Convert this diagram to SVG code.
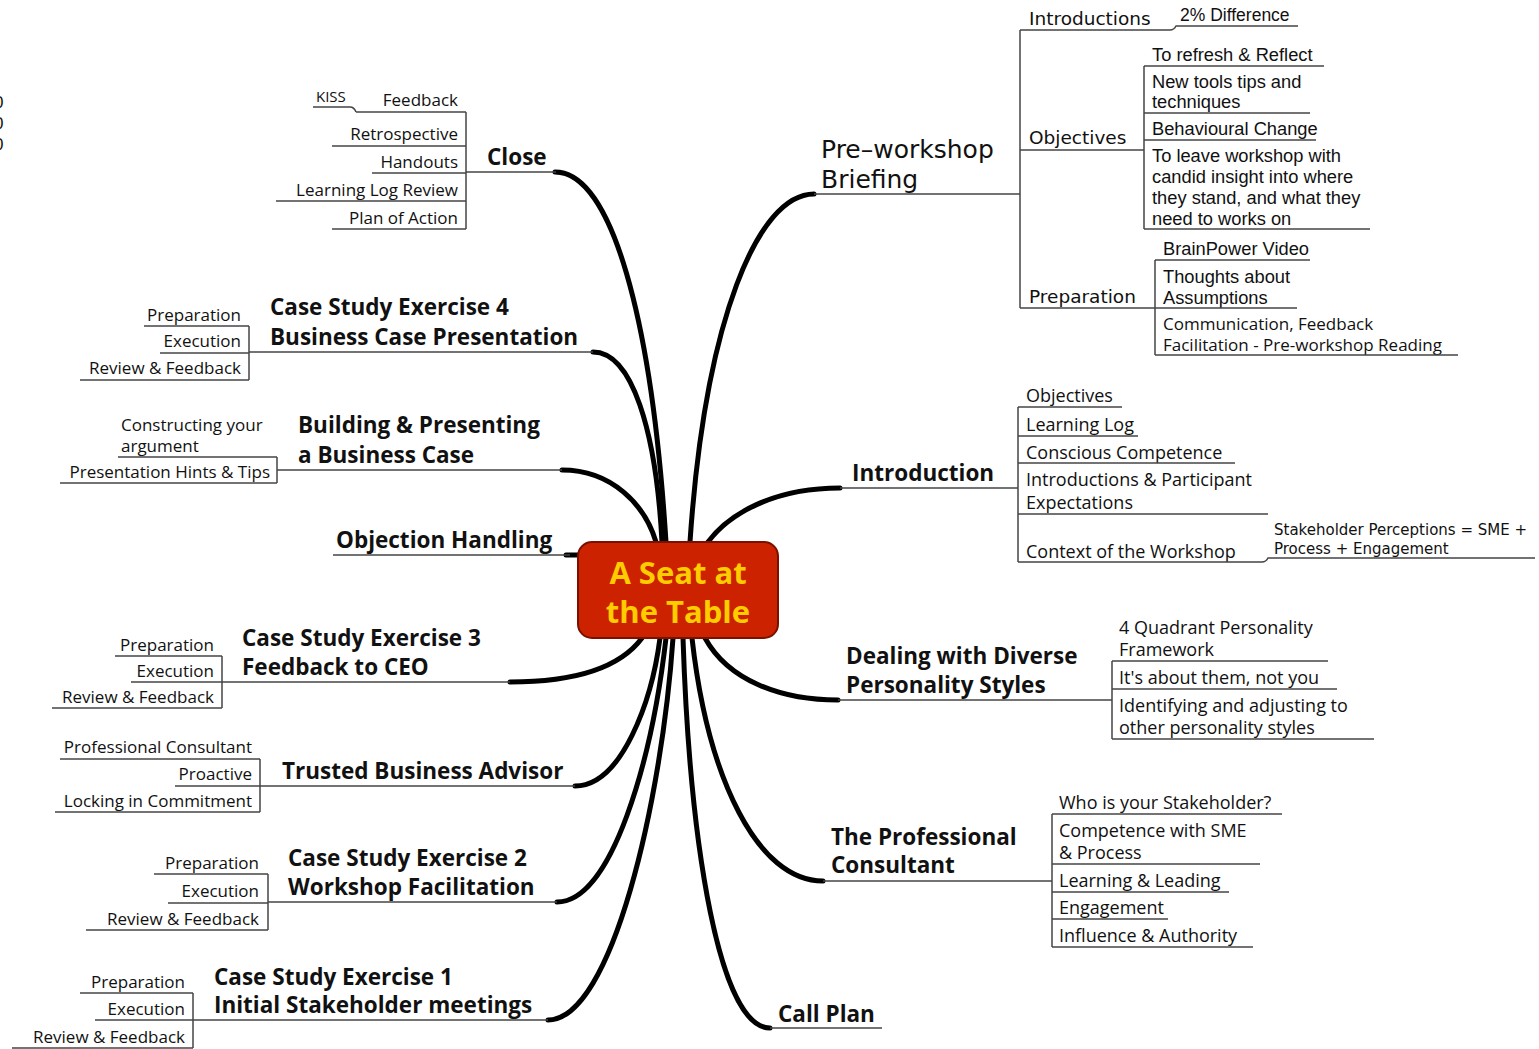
<svg xmlns="http://www.w3.org/2000/svg" width="1539" height="1049" viewBox="0 0 1539 1049">
<style>
text { fill:#111; }
.main { font-family: "Open Sans", Lato, sans-serif; font-size:22.5px; font-weight:bold; }
.sub { font-family: "Open Sans", Lato, sans-serif; font-size:17px; }
.sub18 { font-family: "Open Sans", Lato, sans-serif; font-size:18px; }
.helv { font-family: "Liberation Sans", Arial, sans-serif; font-size:18.3px; }
.luc { font-family: "DejaVu Sans", sans-serif; font-size:18.5px; }
.lucbig { font-family: "DejaVu Sans", sans-serif; font-size:25px; }
.small { font-family: "DejaVu Sans", sans-serif; font-size:15px; }
.end { text-anchor:end; }
.u { stroke:#444; stroke-width:1.5; fill:none; }
.br { stroke:#444; stroke-width:1.5; fill:none; }
.thick { stroke:#000; stroke-width:5; fill:none; stroke-linecap:round; }
.center { font-family: "Open Sans", Lato, sans-serif; font-size:31px; font-weight:bold; fill:#FFCC00; text-anchor:middle; }
</style>
<rect width="1539" height="1049" fill="#fff"/>
<g id="connectors">
  <path class="thick" d="M555,172 C612,172 652,320 666,542"/>
  <path class="thick" d="M593,352 C632,352 656,430 662,542"/>
  <path class="thick" d="M562,470 C612,470 645,505 656,542"/>
  <path class="thick" d="M566,555 H579"/>
  <path class="thick" d="M814,194 C758,194 705,320 690,542"/>
  <path class="thick" d="M840,488 C772,488 728,515 708,542"/>
  <path class="thick" d="M705,638 C728,680 780,700 838,700"/>
  <path class="thick" d="M510,682 C580,682 622,665 642,638"/>
  <path class="thick" d="M575,786 C622,786 652,700 660,638"/>
  <path class="thick" d="M557,902 C612,902 652,760 666,638"/>
  <path class="thick" d="M548,1020 C612,1020 662,800 673,638"/>
  <path class="thick" d="M823,881 C758,881 708,780 692,638"/>
  <path class="thick" d="M770,1028 C720,1028 690,850 683,638"/>
  <path class="br" d="M466,112 V229"/>
  <path class="br" d="M249,326 V380"/>
  <path class="br" d="M277,457 V483"/>
  <path class="br" d="M222,656 V708"/>
  <path class="br" d="M260,759 V812"/>
  <path class="br" d="M268,874 V930"/>
  <path class="br" d="M193,993 V1048"/>
  <path class="br" d="M1020,30 V308"/>
  <path class="br" d="M1144,66 V229"/>
  <path class="br" d="M1155,260 V355"/>
  <path class="br" d="M1018,407 V562"/>
  <path class="br" d="M1112,661 V739"/>
  <path class="br" d="M1052,814 V947"/>
</g>
<g id="stray">
  <text class="helv" x="-6" y="108" style="font-size:17px">0</text>
  <text class="helv" x="-6" y="129" style="font-size:17px">0</text>
  <text class="helv" x="-6" y="150" style="font-size:17px">0</text>
</g>
<g id="central">
  <rect x="578" y="542" width="200" height="96" rx="14" fill="#CC2200" stroke="#7A1000" stroke-width="2"/>
  <text class="center" x="678" y="584">A Seat at</text>
  <text class="center" x="678" y="623">the Table</text>
</g>
<g id="close">
  <text class="main" x="487" y="165">Close</text>
  <path class="u" d="M466,172 H556"/>
  <g id="close-feedback"><text class="sub end" x="458" y="106">Feedback</text><path class="u" d="M356,112 H466"/></g>
  <g id="close-kiss"><text class="sub" x="316" y="102" style="font-size:15px">KISS</text><path class="u" d="M313,107 H350 Q354,107 356,112"/></g>
  <g id="close-retro"><text class="sub end" x="458" y="140">Retrospective</text><path class="u" d="M332,146 H466"/></g>
  <g id="close-handouts"><text class="sub end" x="458" y="168">Handouts</text><path class="u" d="M372,173 H466"/></g>
  <g id="close-llr"><text class="sub end" x="458" y="196">Learning Log Review</text><path class="u" d="M276,201 H466"/></g>
  <g id="close-poa"><text class="sub end" x="458" y="224">Plan of Action</text><path class="u" d="M332,229 H466"/></g>
</g>
<g id="cs4">
  <text class="main" x="270" y="315">Case Study Exercise 4</text>
  <text class="main" x="270" y="345">Business Case Presentation</text>
  <path class="u" d="M249,352 H593"/>
  <g id="cs4-prep"><text class="sub end" x="241" y="321">Preparation</text><path class="u" d="M144,326 H249"/></g>
  <g id="cs4-exec"><text class="sub end" x="241" y="347">Execution</text><path class="u" d="M160,353 H249"/></g>
  <g id="cs4-rev"><text class="sub end" x="241" y="374">Review &amp; Feedback</text><path class="u" d="M80,380 H249"/></g>
</g>
<g id="building">
  <text class="main" x="298" y="433">Building &amp; Presenting</text>
  <text class="main" x="298" y="463">a Business Case</text>
  <path class="u" d="M277,470 H562"/>
  <g id="building-arg"><text class="sub" x="121" y="431">Constructing your</text><text class="sub" x="121" y="452">argument</text><path class="u" d="M118,457 H277"/></g>
  <g id="building-tips"><text class="sub end" x="270" y="478">Presentation Hints &amp; Tips</text><path class="u" d="M60,483 H277"/></g>
</g>
<g id="objection">
  <text class="main" x="336" y="548">Objection Handling</text>
  <path class="u" d="M333,555 H570"/>
</g>
<g id="cs3">
  <text class="main" x="242" y="646">Case Study Exercise 3</text>
  <text class="main" x="242" y="675">Feedback to CEO</text>
  <path class="u" d="M222,682 H510"/>
  <g id="cs3-prep"><text class="sub end" x="214" y="651">Preparation</text><path class="u" d="M115,656 H222"/></g>
  <g id="cs3-exec"><text class="sub end" x="214" y="677">Execution</text><path class="u" d="M131,682 H222"/></g>
  <g id="cs3-rev"><text class="sub end" x="214" y="703">Review &amp; Feedback</text><path class="u" d="M52,708 H222"/></g>
</g>
<g id="trusted">
  <text class="main" x="282" y="779">Trusted Business Advisor</text>
  <path class="u" d="M260,786 H575"/>
  <g id="trusted-pc"><text class="sub end" x="252" y="753">Professional Consultant</text><path class="u" d="M60,759 H260"/></g>
  <g id="trusted-pro"><text class="sub end" x="252" y="780">Proactive</text><path class="u" d="M175,786 H260"/></g>
  <g id="trusted-lock"><text class="sub end" x="252" y="807">Locking in Commitment</text><path class="u" d="M55,812 H260"/></g>
</g>
<g id="cs2">
  <text class="main" x="288" y="866">Case Study Exercise 2</text>
  <text class="main" x="288" y="895">Workshop Facilitation</text>
  <path class="u" d="M268,902 H557"/>
  <g id="cs2-prep"><text class="sub end" x="259" y="869">Preparation</text><path class="u" d="M154,874 H268"/></g>
  <g id="cs2-exec"><text class="sub end" x="259" y="897">Execution</text><path class="u" d="M168,903 H268"/></g>
  <g id="cs2-rev"><text class="sub end" x="259" y="925">Review &amp; Feedback</text><path class="u" d="M86,930 H268"/></g>
</g>
<g id="cs1">
  <text class="main" x="214" y="985">Case Study Exercise 1</text>
  <text class="main" x="214" y="1013">Initial Stakeholder meetings</text>
  <path class="u" d="M193,1020 H548"/>
  <g id="cs1-prep"><text class="sub end" x="185" y="988">Preparation</text><path class="u" d="M80,993 H193"/></g>
  <g id="cs1-exec"><text class="sub end" x="185" y="1015">Execution</text><path class="u" d="M95,1020 H193"/></g>
  <g id="cs1-rev"><text class="sub end" x="185" y="1043">Review &amp; Feedback</text><path class="u" d="M12,1048 H193"/></g>
</g>
<g id="preworkshop">
  <text class="lucbig" x="821" y="158">Pre–workshop</text>
  <text class="lucbig" x="821" y="188">Briefing</text>
  <path class="u" d="M814,194 H1020"/>
  <g id="pw-intro"><text class="luc" x="1029" y="25">Introductions</text><path class="u" d="M1020,30 H1170 Q1174,30 1176,26 H1298"/></g>
  <g id="pw-2pct"><text class="helv" x="1180" y="21" style="font-size:17.5px">2% Difference</text></g>
  <g id="pw-obj">
    <text class="luc" x="1029" y="144">Objectives</text><path class="u" d="M1020,150 H1144"/>
    <g id="pw-obj-1"><text class="helv" x="1152" y="61">To refresh &amp; Reflect</text><path class="u" d="M1144,66 H1324"/></g>
    <g id="pw-obj-2"><text class="helv" x="1152" y="88">New tools tips and</text><text class="helv" x="1152" y="108">techniques</text><path class="u" d="M1144,113 H1310"/></g>
    <g id="pw-obj-3"><text class="helv" x="1152" y="135">Behavioural Change</text><path class="u" d="M1144,140 H1316"/></g>
    <g id="pw-obj-4"><text class="helv" x="1152" y="162">To leave workshop with</text><text class="helv" x="1152" y="183">candid insight into where</text><text class="helv" x="1152" y="204">they stand, and what they</text><text class="helv" x="1152" y="225">need to works on</text><path class="u" d="M1144,229 H1370"/></g>
  </g>
  <g id="pw-prep">
    <text class="luc" x="1029" y="303">Preparation</text><path class="u" d="M1020,308 H1155"/>
    <g id="pw-prep-1"><text class="helv" x="1163" y="255">BrainPower Video</text><path class="u" d="M1155,260 H1310"/></g>
    <g id="pw-prep-2"><text class="helv" x="1163" y="283">Thoughts about</text><text class="helv" x="1163" y="304">Assumptions</text><path class="u" d="M1155,308 H1297"/></g>
    <g id="pw-prep-3"><text class="sub" x="1163" y="330">Communication, Feedback</text><text class="sub" x="1163" y="351">Facilitation - Pre-workshop Reading</text><path class="u" d="M1155,355 H1458"/></g>
  </g>
</g>
<g id="introduction">
  <text class="main" x="852" y="481">Introduction</text>
  <path class="u" d="M840,488 H1018"/>
  <g id="in-obj"><text class="sub18" x="1026" y="402">Objectives</text><path class="u" d="M1018,407 H1122"/></g>
  <g id="in-ll"><text class="sub18" x="1026" y="431">Learning Log</text><path class="u" d="M1018,436 H1138"/></g>
  <g id="in-cc"><text class="sub18" x="1026" y="459">Conscious Competence</text><path class="u" d="M1018,463 H1235"/></g>
  <g id="in-ipe"><text class="sub18" x="1026" y="486">Introductions &amp; Participant</text><text class="sub18" x="1026" y="509">Expectations</text><path class="u" d="M1018,514 H1268"/></g>
  <g id="in-ctx"><text class="sub18" x="1026" y="558">Context of the Workshop</text><path class="u" d="M1018,562 H1262 Q1266,562 1268,558 H1535"/></g>
  <g id="in-sp"><text class="small" x="1274" y="535">Stakeholder Perceptions = SME +</text><text class="small" x="1274" y="554">Process + Engagement</text></g>
</g>
<g id="dealing">
  <text class="main" x="846" y="664">Dealing with Diverse</text>
  <text class="main" x="846" y="693">Personality Styles</text>
  <path class="u" d="M838,700 H1112"/>
  <g id="dl-4q"><text class="sub18" x="1119" y="634">4 Quadrant Personality</text><text class="sub18" x="1119" y="656">Framework</text><path class="u" d="M1112,661 H1328"/></g>
  <g id="dl-them"><text class="sub18" x="1119" y="684">It's about them, not you</text><path class="u" d="M1112,689 H1337"/></g>
  <g id="dl-id"><text class="sub18" x="1119" y="712">Identifying and adjusting to</text><text class="sub18" x="1119" y="734">other personality styles</text><path class="u" d="M1112,739 H1374"/></g>
</g>
<g id="professional">
  <text class="main" x="831" y="845">The Professional</text>
  <text class="main" x="831" y="873">Consultant</text>
  <path class="u" d="M823,881 H1052"/>
  <g id="pc-who"><text class="sub18" x="1059" y="809">Who is your Stakeholder?</text><path class="u" d="M1052,814 H1282"/></g>
  <g id="pc-comp"><text class="sub18" x="1059" y="837">Competence with SME</text><text class="sub18" x="1059" y="859">&amp; Process</text><path class="u" d="M1052,864 H1260"/></g>
  <g id="pc-ll"><text class="sub18" x="1059" y="887">Learning &amp; Leading</text><path class="u" d="M1052,892 H1229"/></g>
  <g id="pc-eng"><text class="sub18" x="1059" y="914">Engagement</text><path class="u" d="M1052,919 H1168"/></g>
  <g id="pc-inf"><text class="sub18" x="1059" y="942">Influence &amp; Authority</text><path class="u" d="M1052,947 H1253"/></g>
</g>
<g id="callplan">
  <text class="main" x="778" y="1022">Call Plan</text>
  <path class="u" d="M770,1028 H882"/>
</g>
</svg>
